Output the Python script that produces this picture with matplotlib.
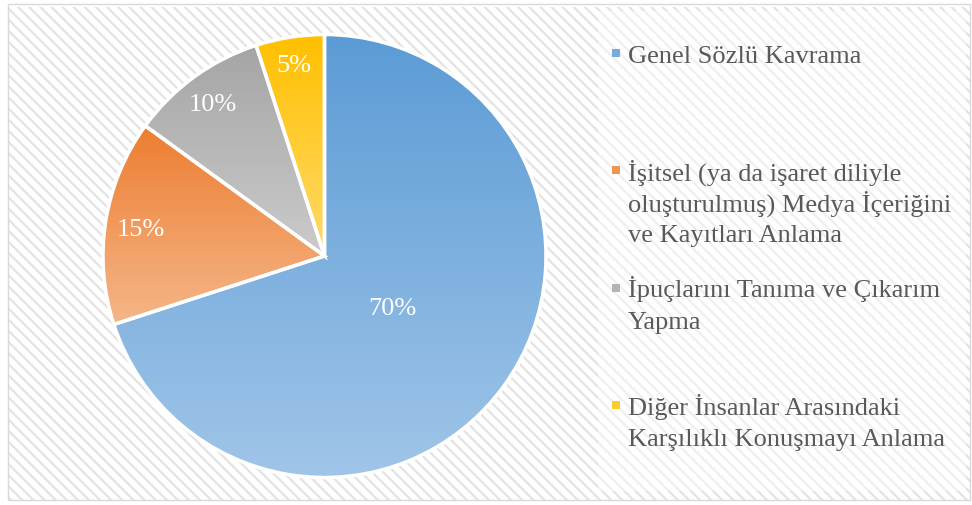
import numpy as np
import matplotlib
matplotlib.use('Agg')
import matplotlib.pyplot as plt
from matplotlib.patches import Rectangle
from matplotlib.colors import to_rgb

# data
categories = ['Genel Sözlü Kavrama',
              'İşitsel (ya da işaret diliyle\noluşturulmuş) Medya İçeriğini\nve Kayıtları Anlama',
              'İpuçlarını Tanıma ve Çıkarım\nYapma',
              'Diğer İnsanlar Arasındaki\nKarşılıklı Konuşmayı Anlama']
values = [70, 15, 10, 5]

# styles
top_colors = ['#5B9BD5', '#ED7D31', '#A5A5A5', '#FFC000']
bottom_colors = ['#A0C5E8', '#F5B688', '#CBCBCB', '#FFDA6A']
label_r = [0.38, 0.84, 0.86, 0.885]
font = 'Liberation Serif'
fsize = 19

W, H = 972, 506
plt.rcParams['hatch.linewidth'] = 1.6

fig = plt.figure(figsize=(W / 100, H / 100), dpi=100)


def fx(x):
    return x / W


def fy(y):
    return 1 - y / H


# hatched background + border
bg = Rectangle((fx(7.5), fy(500.5)), fx(962), (493) / H, transform=fig.transFigure,
               facecolor='white', edgecolor='#E3E3E3', hatch='\\\\\\', linewidth=0, zorder=-3)
fig.add_artist(bg)
leg_bg = Rectangle((fx(598), fy(492)), fx(368), 480 / H, transform=fig.transFigure,
                   facecolor='white', alpha=0.45, linewidth=0, zorder=-2)
fig.add_artist(leg_bg)
border = Rectangle((fx(7.5), fy(500.5)), fx(962), (496) / H, transform=fig.transFigure,
                   fill=False, edgecolor='#D9D9D9', linewidth=1, zorder=-1)
fig.add_artist(border)

# pie
ax = fig.add_axes([fx(103), 27.5 / H, fx(443), 443 / H])
ax.patch.set_visible(False)
wedges, _ = ax.pie(values, startangle=90, counterclock=False, radius=1,
                   wedgeprops=dict(edgecolor='white', linewidth=2.5, facecolor='none'))

for i, w in enumerate(wedges):
    w.set_zorder(5)
    w.set_clip_on(False)
    bb = w.get_path().get_extents()
    c0 = np.array(to_rgb(top_colors[i]))
    c1 = np.array(to_rgb(bottom_colors[i]))
    t = np.linspace(0, 1, 256)[:, None, None]
    grad = c0 * (1 - t) + c1 * t
    im = ax.imshow(grad, extent=(bb.x0, bb.x1, bb.y0, bb.y1), origin='upper',
                   aspect='auto', zorder=2, interpolation='bilinear')
    im.set_clip_path(w)

    theta = np.deg2rad((w.theta1 + w.theta2) / 2)
    r = label_r[i]
    ax.text(r * np.cos(theta), r * np.sin(theta), f'{values[i]}%', ha='center',
            va='center_baseline', color='white', fontsize=fsize, family=font, zorder=6)

ax.set_xlim(-1, 1)
ax.set_ylim(-1, 1)
ax.set_aspect('equal')
ax.axis('off')

# legend
for i, label in enumerate(categories):
    base = 62.7 + i * 117.4
    c = 0.6 * np.array(to_rgb(top_colors[i])) + 0.4 * np.array(to_rgb(bottom_colors[i]))
    sq = Rectangle((fx(612), fy(base - 5)), fx(8), 8 / H, transform=fig.transFigure,
                   facecolor=c, linewidth=0)
    fig.add_artist(sq)
    for j, line in enumerate(label.split('\n')):
        fig.text(fx(628), fy(base + j * 31), line, va='baseline', ha='left',
                 fontsize=fsize, family=font, color='#595959')

fig.savefig('out.png', dpi=100)
